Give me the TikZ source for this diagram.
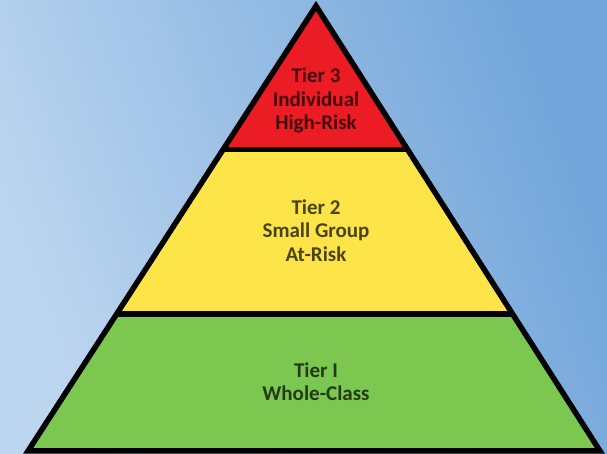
\documentclass[tikz,border=0pt]{standalone}
\usepackage{fontspec}
\setmainfont{Carlito}
\usetikzlibrary{calc}
\definecolor{bgA}{HTML}{BDD6EF}
\definecolor{bgB}{HTML}{72A5DA}
\definecolor{tred}{HTML}{EC1C24}
\definecolor{tyel}{HTML}{FDE448}
\definecolor{tgrn}{HTML}{7BC74F}
\begin{document}
\begin{tikzpicture}[x=1pt,y=1pt,
  tierlabel/.style={font=\bfseries\fontsize{21}{23.5}\selectfont, align=center, text=black, text opacity=0.7, inner sep=0pt},
  edge/.style={line width=5.5pt, line join=miter, black}]
\useasboundingbox (0,0) rectangle (607,454);
\shade[shading=axis, left color=bgA, right color=bgB, shading angle=110] (0,0) rectangle (607,454);
\coordinate (A) at (316,448);
\coordinate (BL) at (28,3);
\coordinate (BR) at (600,3);
\coordinate (L1) at ($(A)!0.3225!(BL)$);
\coordinate (R1) at ($(A)!0.3225!(BR)$);
\coordinate (L2) at ($(A)!0.692!(BL)$);
\coordinate (R2) at ($(A)!0.692!(BR)$);
\fill[tred] (A) -- (L1) -- (R1) -- cycle;
\fill[tyel] (L1) -- (L2) -- (R2) -- (R1) -- cycle;
\fill[tgrn] (L2) -- (BL) -- (BR) -- (R2) -- cycle;
\draw[edge] (L1) -- (R1);
\draw[edge] (L2) -- (R2);
\draw[edge] (A) -- (BL) -- (BR) -- cycle;
\node[tierlabel] (t3) at (316,353.5) {Tier 3\\Individual\\High-Risk};
\node[tierlabel] (t2) at (316,223.5) {Tier 2\\Small Group\\At-Risk};
\node[tierlabel] (t1) at (316,72.5) {Tier I\\Whole-Class};
\end{tikzpicture}
\end{document}
